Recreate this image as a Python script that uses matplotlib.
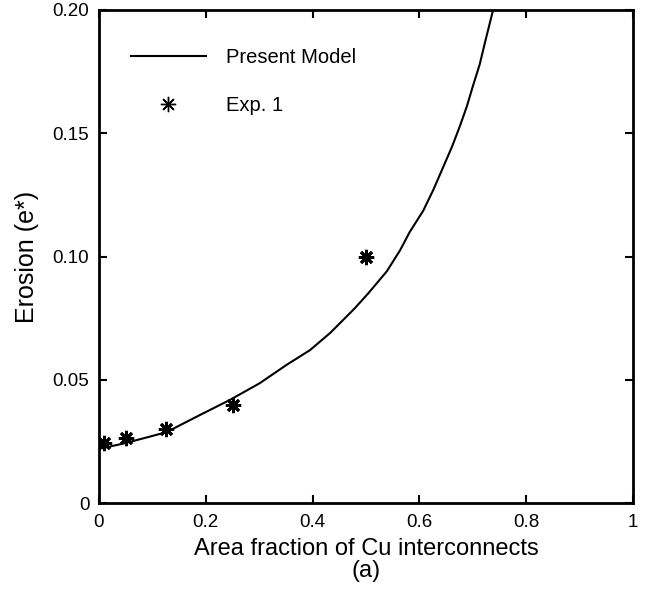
import matplotlib
matplotlib.use("Agg")
import matplotlib.pyplot as plt
from matplotlib.lines import Line2D

plt.rcParams['font.family'] = ['Liberation Sans', 'DejaVu Sans']

# Model curve
model_x = [0.0, 0.008, 0.049, 0.10, 0.127, 0.189, 0.245, 0.301, 0.351, 0.395, 0.433,
           0.479, 0.504, 0.539, 0.564, 0.582, 0.607, 0.626, 0.644, 0.661, 0.676,
           0.689, 0.700, 0.713, 0.723, 0.738, 0.742]
model_y = [0.0220, 0.0223, 0.0243, 0.0272, 0.0288, 0.0357, 0.0418, 0.0486, 0.0560, 0.0620, 0.0690,
           0.0790, 0.0850, 0.0940, 0.1026, 0.1100, 0.1185, 0.1270, 0.1360, 0.1445, 0.1530,
           0.1610, 0.1690, 0.1780, 0.1870, 0.2000, 0.2040]

# Experimental data
exp_x = [0.01, 0.05, 0.125, 0.25, 0.50]
exp_y = [0.0243, 0.0264, 0.0300, 0.0398, 0.1000]

xticks = [0, 0.2, 0.4, 0.6, 0.8, 1.0]
xticklabels = ["0", "0.2", "0.4", "0.6", "0.8", "1"]
yticks = [0, 0.05, 0.10, 0.15, 0.20]
yticklabels = ["0", "0.05", "0.10", "0.15", "0.20"]

fig = plt.figure(figsize=(6.55, 5.91), dpi=100)
ax = fig.add_axes([99/655, 88/591, 534/655, 493/591])

ast = (8, 2, 0)
ax.plot(model_x, model_y, color='black', lw=1.5, clip_on=True)
ax.plot(exp_x, exp_y, linestyle='none', marker=ast, markersize=11,
        markeredgewidth=2.0, color='black')

ax.set_xlim(0, 1)
ax.set_ylim(0, 0.2)
ax.set_xticks(xticks)
ax.set_xticklabels(xticklabels)
ax.set_yticks(yticks)
ax.set_yticklabels(yticklabels)
ax.tick_params(direction='in', length=6, width=1.5, top=True, right=True,
               labelsize=13.5)
ax.tick_params(axis='x', pad=8)
ax.tick_params(axis='y', pad=7)
for s in ax.spines.values():
    s.set_linewidth(2)

ax.set_xlabel("Area fraction of Cu interconnects\n(a)", fontsize=17, linespacing=1.0, labelpad=5)
ax.set_ylabel("Erosion (e*)", fontsize=18, labelpad=10)

handles = [Line2D([], [], color='black', lw=1.5),
           Line2D([], [], linestyle='none', marker=ast, markersize=11,
                  markeredgewidth=1.0, color='black')]
ax.legend(handles, ["Present Model", "Exp. 1"], loc='upper left', frameon=False,
          fontsize=14.5, handlelength=3.7, handletextpad=1.0, labelspacing=1.45,
          borderaxespad=0.0, bbox_to_anchor=(0.045, 0.94))

fig.savefig("out.png", dpi=100)
